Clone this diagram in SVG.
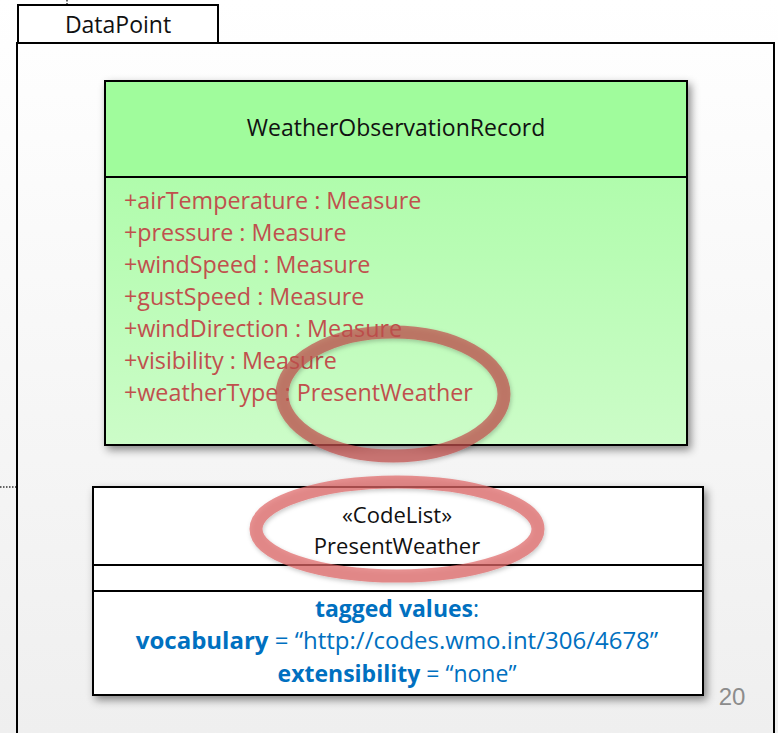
<svg xmlns="http://www.w3.org/2000/svg" width="778" height="733" viewBox="0 0 778 733">
<defs>
<linearGradient id="bg" x1="0" y1="0" x2="0" y2="1"><stop offset="0" stop-color="#ffffff"/><stop offset="1" stop-color="#efefef"/></linearGradient>
<linearGradient id="attr" x1="0" y1="0" x2="0" y2="1"><stop offset="0" stop-color="#a6fca2"/><stop offset="1" stop-color="#ccfcc8"/></linearGradient>
<filter id="sh" x="-5%" y="-5%" width="112%" height="115%"><feDropShadow dx="3" dy="4" stdDeviation="4" flood-color="#000" flood-opacity="0.45"/></filter>
<filter id="esh" x="-10%" y="-20%" width="120%" height="140%"><feDropShadow dx="1" dy="2" stdDeviation="2" flood-color="#000" flood-opacity="0.3"/></filter>
<style>
.t{font-family:"Open Sans","Liberation Sans",Arial,sans-serif;font-size:23px;fill:#111}
.s{font-size:22px}
.a{font-family:"Open Sans","Liberation Sans",Arial,sans-serif;font-size:23.3px;fill:#c0504d}
.b{font-family:"Open Sans","Liberation Sans",Arial,sans-serif;font-size:23px;fill:#0070c0}
.b.v{font-size:24px}
.bold{font-weight:bold}
.box{stroke:#000;stroke-width:2}
</style>
</defs>
<rect width="778" height="733" fill="url(#bg)"/>
<g id="connectors">
<line x1="67" y1="0" x2="67" y2="6" stroke="#333" stroke-width="1.5" stroke-dasharray="1.5,1.5"/>
<line x1="0" y1="487" x2="16" y2="487" stroke="#333" stroke-width="1.5" stroke-dasharray="1.5,1.5"/>
</g>
<g id="DataPoint">
<rect x="18" y="5" width="200" height="38" fill="#fff" class="box"/>
<path d="M17 733 V43 H774 V733" fill="none" class="box"/>
<text x="118" y="33" text-anchor="middle" class="t">DataPoint</text>
</g>
<g id="WeatherObservationRecord">
<g filter="url(#sh)">
<rect x="105" y="81" width="582" height="364" fill="url(#attr)" class="box"/>
</g>
<rect x="105" y="81" width="582" height="96" fill="#a0fc9c" class="box"/>
<text x="396" y="136" text-anchor="middle" class="t">WeatherObservationRecord</text>
<text x="124" y="209" class="a">+airTemperature : Measure</text>
<text x="124" y="241" class="a">+pressure : Measure</text>
<text x="124" y="273" class="a">+windSpeed : Measure</text>
<text x="124" y="305" class="a">+gustSpeed : Measure</text>
<text x="124" y="337" class="a">+windDirection : Measure</text>
<text x="124" y="369" class="a">+visibility : Measure</text>
<text x="124" y="401" class="a">+weatherType : PresentWeather</text>
</g>
<g id="PresentWeather">
<rect x="93" y="487" width="610" height="208" fill="#fff" class="box" filter="url(#sh)"/>
<line x1="93" y1="565" x2="703" y2="565" class="box"/>
<line x1="93" y1="591" x2="703" y2="591" class="box"/>
<text x="397" y="523" text-anchor="middle" class="t s">«CodeList»</text>
<text x="397" y="554" text-anchor="middle" class="t s">PresentWeather</text>
<text x="397" y="617" text-anchor="middle" class="b"><tspan class="bold">tagged values</tspan>:</text>
<text x="397" y="649" text-anchor="middle" class="b v"><tspan class="bold">vocabulary</tspan> = “http://codes.wmo.int/306/4678”</text>
<text x="397" y="682" text-anchor="middle" class="b"><tspan class="bold">extensibility</tspan> = “none”</text>
</g>
<g id="highlights" fill="none">
<ellipse cx="393" cy="394" rx="111" ry="62" stroke="#c0504d" stroke-opacity="0.7" stroke-width="13" filter="url(#esh)"/>
<ellipse cx="397" cy="529" rx="141" ry="47" stroke="#e06666" stroke-opacity="0.7" stroke-width="13" filter="url(#esh)"/>
</g>
<text x="732" y="705" text-anchor="middle" font-family="Liberation Sans,Arial,sans-serif" font-size="24" fill="#8c8c8c">20</text>
</svg>
